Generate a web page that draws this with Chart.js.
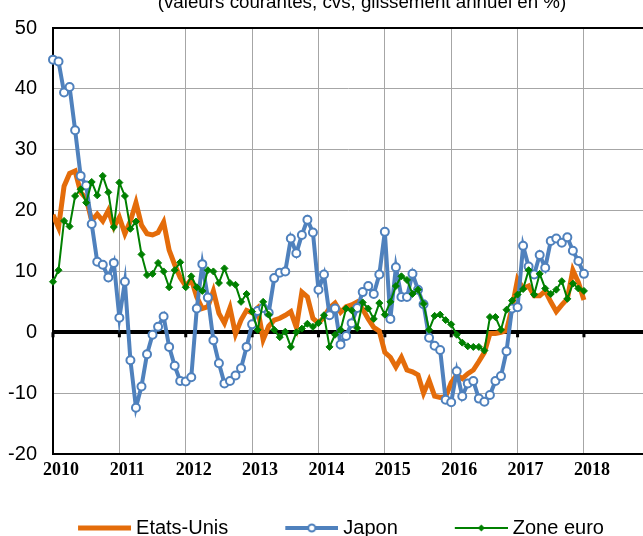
<!DOCTYPE html>
<html>
<head>
<meta charset="utf-8">
<script src="https://cdn.jsdelivr.net/npm/chart.js@4"></script>
<style>
  html, body { margin: 0; padding: 0; background: #fff; overflow: hidden; }
  #wrap { position: relative; width: 643px; height: 536px; overflow: hidden; }
  #chart { position: absolute; left: 0; top: 0; }
  #subtitle {
    position: absolute; left: 362px; top: -8px; transform: translateX(-50%);
    white-space: nowrap; font: 18.75px Arial, "Liberation Sans", sans-serif;
    line-height: 20px; color: #000;
  }
</style>
</head>
<body>
<div id="wrap">
  <canvas id="chart" width="643" height="548"></canvas>
  <div id="subtitle">(valeurs courantes, cvs, glissement annuel en %)</div>
</div>
<script>
// ── data: monthly, Jan 2010 → Jan 2018 ──
const startYear = 2010;
const years = ['2010', '2011', '2012', '2013', '2014', '2015', '2016', '2017', '2018'];
const seriesNames = ['Etats-Unis', 'Japon', 'Zone euro'];

const etatsUnis = [
  19.3, 17.2, 24.0, 26.1, 26.5, 23.0, 22.0, 18.3, 19.4, 18.3,
  20.0, 17.3, 18.9, 16.2, 18.3, 21.3, 17.6, 16.2, 16.0, 16.4,
  18.1, 13.5, 11.1, 9.0, 7.6, 8.7, 5.8, 3.9, 4.2, 6.8,
  3.1, 1.5, 4.0, -0.3, 2.0, 3.6, 3.2, 4.0, -1.2, 1.0,
  2.0, 2.3, 2.8, 3.4, 0.8, 6.6, 5.8, 2.3, 1.5, 2.5,
  4.0, 4.8, 3.3, 4.2, 4.5, 5.0, 3.8, 2.2, 0.8, 0.2,
  -3.3, -4.1, -5.7, -4.1, -6.2, -6.5, -7.0, -10.0, -7.9, -10.5,
  -10.7, -10.6, -8.3, -7.0, -7.6, -6.8, -6.2, -4.8, -3.3, -0.2,
  -0.2, 0.0, 0.3, 4.0, 8.7, 7.2, 7.6, 6.0, 6.0, 6.8,
  5.0, 3.4, 4.5, 5.5, 10.2, 8.2, 5.3
];

const japon = [
  44.8, 44.5, 39.4, 40.3, 33.2, 25.7, 24.1, 17.8, 11.6, 11.1,
  9.0, 11.4, 2.4, 8.3, -4.6, -12.4, -8.9, -3.6, -0.4, 0.9,
  2.6, -2.4, -5.5, -8.0, -8.1, -7.4, 3.9, 11.2, 5.7, -1.3,
  -5.1, -8.4, -8.0, -7.1, -5.9, -2.4, 1.3, 3.5, 4.0, 3.2,
  8.9, 9.8, 10.0, 15.4, 13.0, 16.0, 18.5, 16.4, 7.0, 9.5,
  2.8, 3.9, -2.0, -0.6, 1.5, 4.0, 6.6, 7.6, 6.3, 9.5,
  16.5, 2.2, 10.7, 5.8, 5.8, 9.6, 7.0, 4.6, -0.9, -2.2,
  -2.9, -11.1, -11.5, -6.4, -10.5, -8.4, -8.0, -10.9, -11.4, -10.3,
  -8.0, -7.2, -3.1, 3.9, 4.1, 14.2, 10.8, 9.5, 12.7, 10.6,
  15.0, 15.4, 14.7, 15.6, 13.4, 11.7, 9.6
];

const zoneEuro = [
  8.3, 10.2, 18.3, 17.4, 22.4, 23.5, 21.3, 24.7, 22.5, 25.7,
  23.0, 17.3, 24.6, 22.4, 17.0, 18.2, 12.8, 9.4, 9.6, 11.4,
  10.0, 7.4, 10.2, 11.5, 7.4, 9.2, 7.4, 6.8, 10.2, 10.0,
  8.1, 10.5, 8.1, 7.8, 5.0, 6.3, 3.4, 0.4, 5.0, 2.9,
  0.4, -0.8, 0.1, -2.4, 0.0, 0.6, 1.4, 0.9, 1.5, 2.8,
  -2.4, -0.4, 0.4, 3.9, 3.6, 0.7, 4.9, 3.9, 2.2, 4.8,
  2.9, 5.0, 7.6, 9.2, 8.6, 6.3, 7.0, 4.7, 0.4, 2.7,
  2.9, 2.0, 1.3, -0.4, -1.7, -2.3, -2.4, -2.4, -3.0, 2.5,
  2.5, 0.4, 3.7, 5.2, 6.2, 7.1, 10.2, 6.2, 9.6, 7.2,
  6.3, 7.0, 8.4, 5.5, 8.0, 7.2, 6.8
];

const COLORS = { us: '#e46c0a', jp: '#4f81bd', eu: '#008000' };
const GRID = '#a6a6a6';

// month index -> fractional year
const toPoints = (vals) => vals.map((v, i) => ({ x: startYear + i / 12, y: v }));

/** Legend sample: transparent lead-in, then the line with optional marker */
function legendSwatch(color, width, marker) {
  const c = document.createElement('canvas');
  c.width = 105; c.height = 20;
  const g = c.getContext('2d');
  g.strokeStyle = color;
  g.lineWidth = width;
  g.beginPath(); g.moveTo(52, 10); g.lineTo(105, 10); g.stroke();
  if (marker === 'circle') {
    g.beginPath(); g.arc(78.5, 10, 3.5, 0, Math.PI * 2);
    g.fillStyle = '#fff'; g.fill();
    g.lineWidth = 2; g.stroke();
  } else if (marker === 'diamond') {
    g.beginPath();
    g.moveTo(78.5, 6.5); g.lineTo(82, 10); g.lineTo(78.5, 13.5); g.lineTo(75, 10);
    g.closePath(); g.fillStyle = color; g.fill();
  }
  return c;
}

const swatches = [
  legendSwatch(COLORS.us, 5, null),
  legendSwatch(COLORS.jp, 4, 'circle'),
  legendSwatch(COLORS.eu, 2, 'diamond'),
];

// little black tick marks hanging under the zero line
const zeroTicks = {
  id: 'zeroTicks',
  beforeDatasetsDraw(chart) {
    const { ctx, scales: { x, y } } = chart;
    const y0 = y.getPixelForValue(0);
    ctx.save();
    ctx.fillStyle = '#000';
    x.ticks.forEach((t) => {
      const px = x.getPixelForValue(t.value);
      ctx.fillRect(px - 1.5, y0, 3, 5);
    });
    ctx.restore();
  }
};

new Chart(document.getElementById('chart'), {
  type: 'line',
  data: {
    datasets: [
      {
        label: seriesNames[0],
        data: toPoints(etatsUnis),
        borderColor: COLORS.us,
        borderWidth: 5,
        pointRadius: 0,
        order: 3,
      },
      {
        label: seriesNames[1],
        data: toPoints(japon),
        borderColor: COLORS.jp,
        borderWidth: 4,
        pointRadius: 4,
        pointBackgroundColor: '#fff',
        pointBorderColor: COLORS.jp,
        pointBorderWidth: 2,
        clip: false,
        order: 2,
      },
      {
        label: seriesNames[2],
        data: toPoints(zoneEuro),
        borderColor: COLORS.eu,
        backgroundColor: COLORS.eu,
        borderWidth: 2,
        pointStyle: 'rectRot',
        pointRadius: 3.5,
        pointBackgroundColor: COLORS.eu,
        pointBorderColor: COLORS.eu,
        pointBorderWidth: 1,
        clip: false,
        order: 1,
      },
    ],
  },
  options: {
    responsive: false,
    animation: false,
    devicePixelRatio: 1,
    layout: { autoPadding: false, padding: { top: 18, left: -8, right: 0, bottom: 0 } },
    elements: { line: { tension: 0 } },
    scales: {
      x: {
        type: 'linear',
        min: startYear,
        max: 2018.89,
        afterBuildTicks: (scale) => {
          scale.ticks = years.map((y) => ({ value: Number(y) }));
        },
        afterFit: (scale) => {
          scale.height = 54;
          scale.paddingLeft = 0;
          scale.paddingRight = 0;
        },
        grid: { color: GRID, lineWidth: 1, drawTicks: false },
        border: { display: true, color: '#000', width: 2 },
        ticks: {
          color: '#000',
          padding: 6,
          labelOffset: 8,
          maxRotation: 0,
          autoSkip: false,
          font: { family: '"Times New Roman", "Liberation Serif", serif', size: 18, weight: 'bold' },
          callback: (v) => String(v),
        },
      },
      y: {
        min: -20,
        max: 50,
        afterFit: (scale) => { scale.width = 61; },
        grid: {
          drawTicks: false,
          color: (c) => (c.tick && (c.tick.value === 0 || c.tick.value === 50) ? '#000' : GRID),
          lineWidth: (c) => (c.tick && c.tick.value === 0 ? 4 : c.tick && c.tick.value === 50 ? 2 : 1),
        },
        border: { display: true, color: '#000', width: 2 },
        ticks: {
          stepSize: 10,
          color: '#000',
          padding: 16,
          font: { family: 'Arial, "Liberation Sans", sans-serif', size: 20 },
        },
      },
    },
    plugins: {
      title: { display: false },
      tooltip: { enabled: false },
      legend: {
        position: 'bottom',
        labels: {
          color: '#000',
          font: { family: 'Arial, "Liberation Sans", sans-serif', size: 20 },
          padding: 10,
          usePointStyle: true,
          pointStyleWidth: 95,
          boxWidth: 95,
          generateLabels: (chart) => chart.data.datasets.map((ds, i) => ({
            text: ds.label,
            pointStyle: swatches[i],
            fillStyle: ds.borderColor,
            strokeStyle: ds.borderColor,
            lineWidth: 0,
            hidden: false,
            datasetIndex: i,
          })),
        },
      },
    },
  },
  plugins: [zeroTicks],
});
</script>
</body>
</html>
